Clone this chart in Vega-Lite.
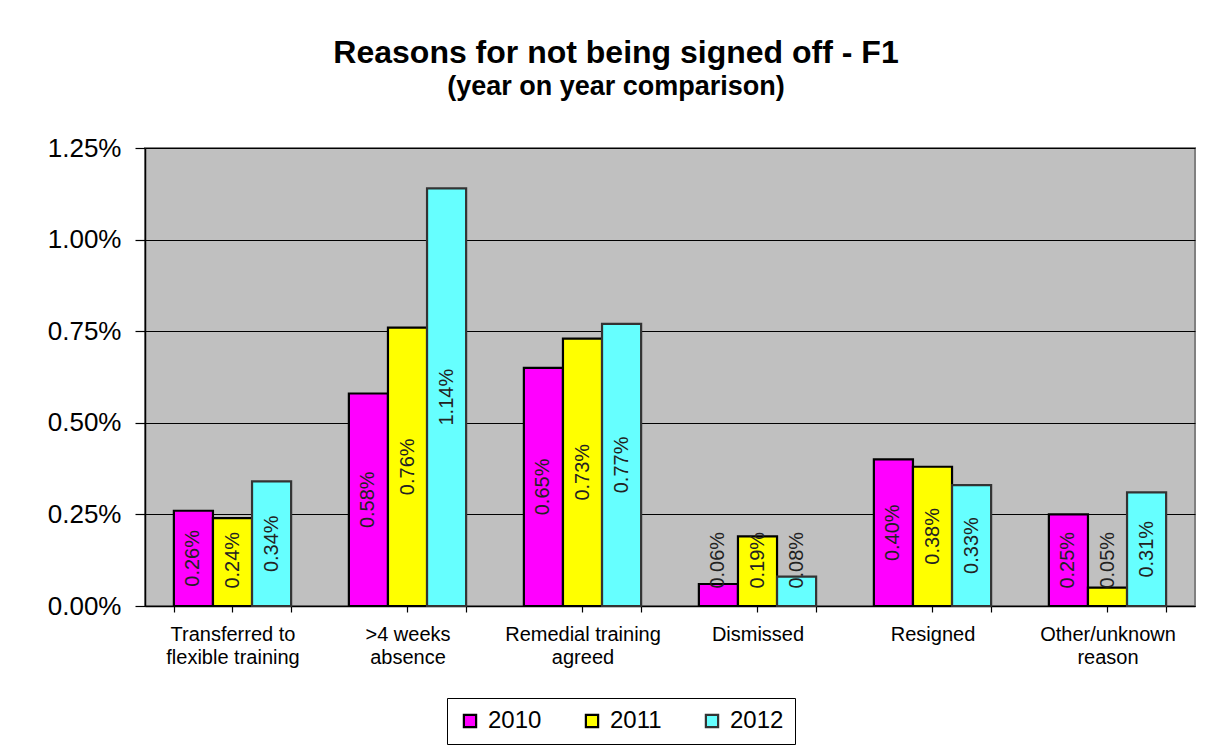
{
  "$schema": "https://vega.github.io/schema/vega-lite/v6.json",
  "width": 1050,
  "height": 458,
  "autosize": {"type": "none"},
  "padding": {"left": 145, "top": 148, "right": 15, "bottom": 142},
  "background": "white",
  "title": {
    "text": "Reasons for not being signed off - F1",
    "subtitle": "(year on year comparison)",
    "anchor": "middle",
    "dx": -54,
    "offset": 34,
    "font": "Liberation Sans",
    "fontSize": 32,
    "fontWeight": "bold",
    "color": "#000",
    "subtitleFont": "Liberation Sans",
    "subtitleFontSize": 27,
    "subtitleFontWeight": "bold",
    "subtitleColor": "#000",
    "subtitlePadding": 4
  },
  "data": {
    "values": [
      {"reason": "Transferred to flexible training", "year": "2010", "value": 0.0026},
      {"reason": "Transferred to flexible training", "year": "2011", "value": 0.0024},
      {"reason": "Transferred to flexible training", "year": "2012", "value": 0.0034},
      {"reason": ">4 weeks absence", "year": "2010", "value": 0.0058},
      {"reason": ">4 weeks absence", "year": "2011", "value": 0.0076},
      {"reason": ">4 weeks absence", "year": "2012", "value": 0.0114},
      {"reason": "Remedial training agreed", "year": "2010", "value": 0.0065},
      {"reason": "Remedial training agreed", "year": "2011", "value": 0.0073},
      {"reason": "Remedial training agreed", "year": "2012", "value": 0.0077},
      {"reason": "Dismissed", "year": "2010", "value": 0.0006},
      {"reason": "Dismissed", "year": "2011", "value": 0.0019},
      {"reason": "Dismissed", "year": "2012", "value": 0.0008},
      {"reason": "Resigned", "year": "2010", "value": 0.0040},
      {"reason": "Resigned", "year": "2011", "value": 0.0038},
      {"reason": "Resigned", "year": "2012", "value": 0.0033},
      {"reason": "Other/unknown reason", "year": "2010", "value": 0.0025},
      {"reason": "Other/unknown reason", "year": "2011", "value": 0.0005},
      {"reason": "Other/unknown reason", "year": "2012", "value": 0.0031}
    ]
  },
  "encoding": {
    "x": {
      "field": "reason",
      "type": "nominal",
      "sort": ["Transferred to flexible training", ">4 weeks absence", "Remedial training agreed", "Dismissed", "Resigned", "Other/unknown reason"],
      "scale": {"paddingInner": 0.33, "paddingOuter": 0.165}
    },
    "xOffset": {"field": "year", "type": "nominal", "sort": ["2010", "2011", "2012"]}
  },
  "layer": [
    {
      "mark": {"type": "bar"},
      "encoding": {
        "x": {
          "field": "reason",
          "type": "nominal",
          "sort": ["Transferred to flexible training", ">4 weeks absence", "Remedial training agreed", "Dismissed", "Resigned", "Other/unknown reason"],
          "axis": {
            "orient": "bottom",
            "title": null,
            "labelAngle": 0,
            "labelFont": "Liberation Sans",
            "labelFontSize": 20,
            "labelColor": "#000",
            "labelPadding": 12,
            "labelBaseline": "top",
            "labelLineHeight": 23,
            "labelLimit": 300,
            "tickBand": "extent",
            "tickSize": 6,
            "tickColor": "#000",
            "tickWidth": 1.2,
            "domainColor": "#000",
            "domainWidth": 1.5,
            "labelExpr": "datum.label == 'Transferred to flexible training' ? ['Transferred to','flexible training'] : datum.label == '>4 weeks absence' ? ['>4 weeks','absence'] : datum.label == 'Remedial training agreed' ? ['Remedial training','agreed'] : datum.label == 'Other/unknown reason' ? ['Other/unknown','reason'] : datum.label"
          }
        },
        "y": {
          "field": "value",
          "type": "quantitative",
          "scale": {"domain": [0, 0.0125], "nice": false},
          "axis": {
            "title": null,
            "format": ".2%",
            "values": [0, 0.0025, 0.005, 0.0075, 0.01, 0.0125],
            "grid": true,
            "gridColor": "#000",
            "gridWidth": 1.2,
            "domainColor": "#000",
            "domainWidth": 1.5,
            "tickColor": "#000",
            "tickSize": 10,
            "tickWidth": 1.2,
            "labelFont": "Liberation Sans",
            "labelFontSize": 26,
            "labelColor": "#000",
            "labelPadding": 14
          }
        },
        "fill": {
          "field": "year",
          "type": "nominal",
          "scale": {"domain": ["2010", "2011", "2012"], "range": ["#FF00FF", "#FFFF00", "#66FFFF"]},
          "legend": {
            "title": null,
            "orient": "none",
            "legendX": 302,
            "legendY": 550,
            "direction": "horizontal",
            "symbolType": "square",
            "symbolSize": 150,
            "symbolStrokeColor": "#000",
            "symbolStrokeWidth": 1.5,
            "labelFont": "Liberation Sans",
            "labelFontSize": 24,
            "labelColor": "#000",
            "labelOffset": 6,
            "strokeColor": "#000",
            "fillColor": "#fff",
            "padding": 11,
            "columnPadding": 38
          }
        },
        "stroke": {
          "field": "year",
          "type": "nominal",
          "scale": {"domain": ["2010", "2011", "2012"], "range": ["#000", "#000", "#333"]},
          "legend": null
        },
        "strokeWidth": {
          "field": "year",
          "type": "ordinal",
          "scale": {"domain": ["2010", "2011", "2012"], "range": [2.2, 2.2, 1]},
          "legend": null
        }
      }
    },
    {
      "transform": [{"calculate": "max(datum.value / 2, 0.00125)", "as": "labelPos"}],
      "mark": {"type": "text", "angle": 270, "align": "center", "baseline": "middle", "font": "Liberation Sans", "fontSize": 20, "color": "#222"},
      "encoding": {
        "x": {
          "field": "reason",
          "type": "nominal",
          "sort": ["Transferred to flexible training", ">4 weeks absence", "Remedial training agreed", "Dismissed", "Resigned", "Other/unknown reason"],
          "axis": {
            "orient": "bottom",
            "title": null,
            "labels": false,
            "domain": false,
            "tickBand": "center",
            "tickSize": 6,
            "tickColor": "#000",
            "tickWidth": 1.2
          }
        },
        "y": {
          "field": "labelPos",
          "type": "quantitative",
          "axis": {
            "title": null,
            "format": ".2%",
            "values": [0, 0.0025, 0.005, 0.0075, 0.01, 0.0125],
            "grid": true,
            "gridColor": "#000",
            "gridWidth": 1.2,
            "domainColor": "#000",
            "domainWidth": 1.5,
            "tickColor": "#000",
            "tickSize": 10,
            "tickWidth": 1.2,
            "labelFont": "Liberation Sans",
            "labelFontSize": 26,
            "labelColor": "#000",
            "labelPadding": 14
          }
        },
        "text": {"field": "value", "type": "quantitative", "format": ".2%"}
      }
    }
  ],
  "resolve": {"axis": {"x": "independent"}},
  "config": {
    "view": {"fill": "#C0C0C0", "stroke": "#808080", "strokeWidth": 2}
  }
}
